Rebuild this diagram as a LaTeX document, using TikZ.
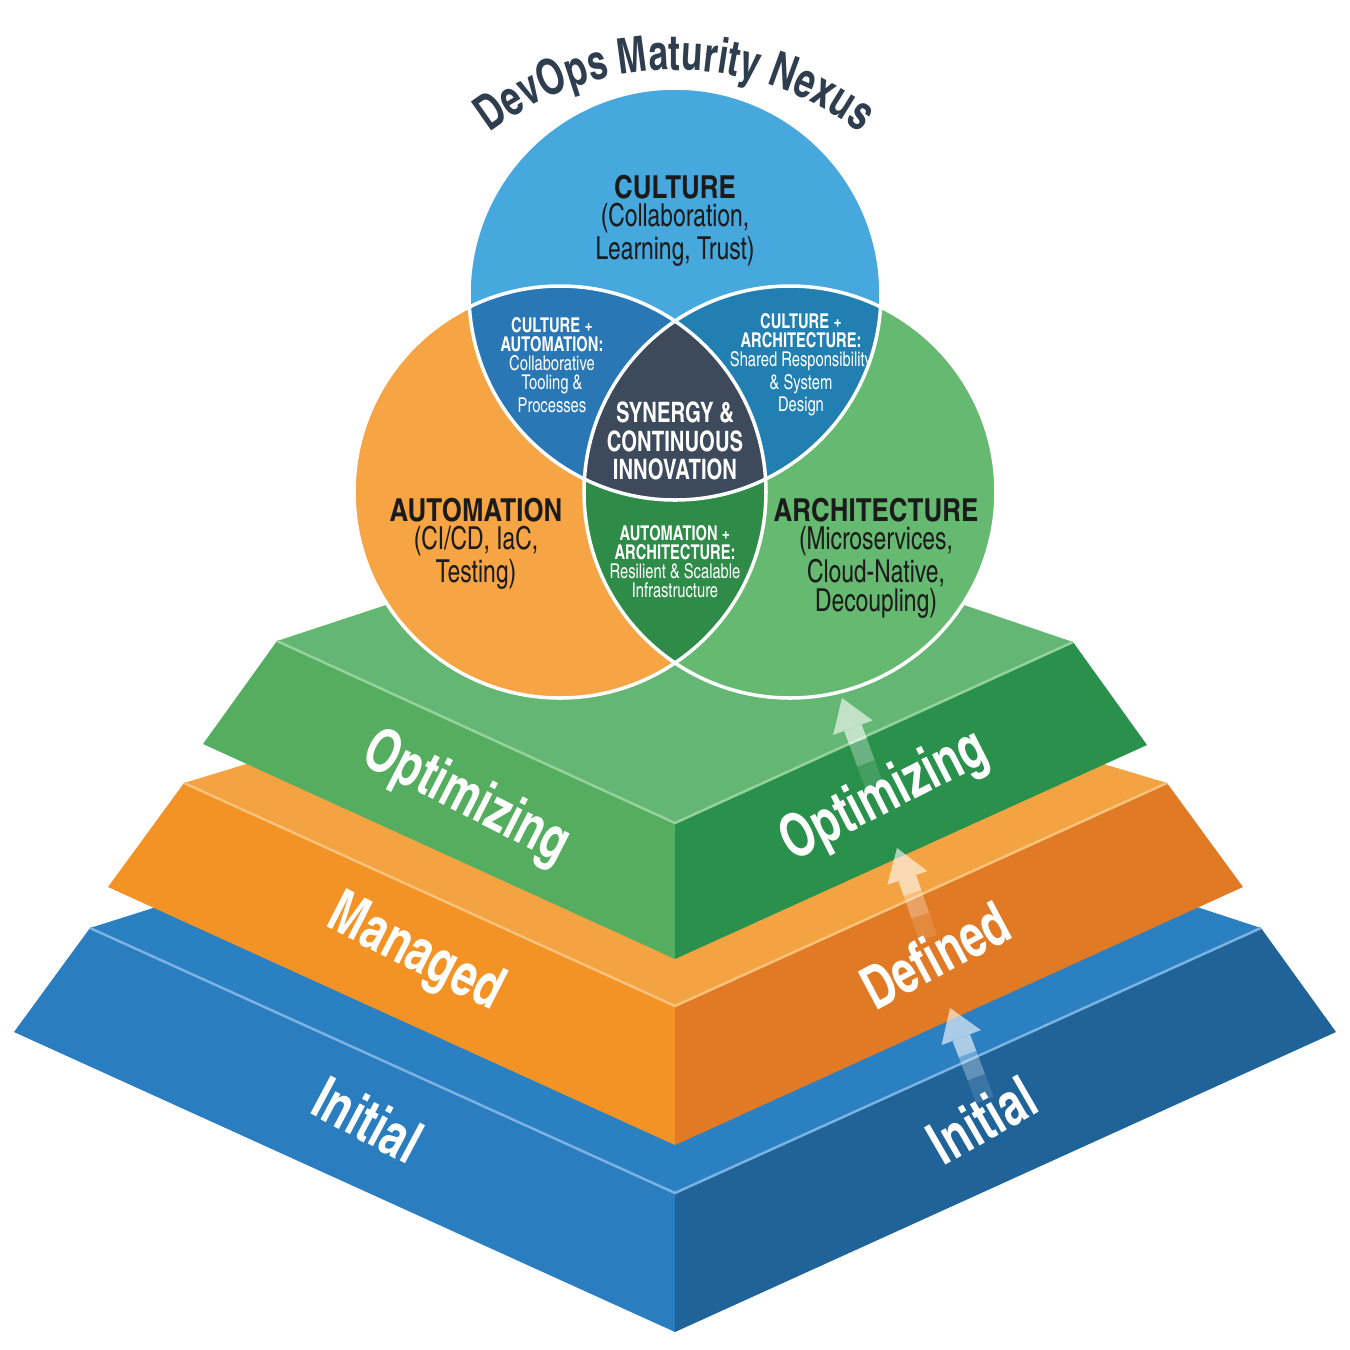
\documentclass[tikz,border=0pt]{standalone}
\usepackage{fontspec}
\setmainfont{texgyreheroscn}[Extension=.otf,UprightFont=*-regular,BoldFont=*-bold,FakeStretch=0.88]
\newfontfamily\vennhead{texgyreheroscn}[Extension=.otf,UprightFont=*-bold]
\usetikzlibrary{arrows.meta,decorations.text,calc}

\definecolor{bluetop}{HTML}{2B80C2}
\definecolor{blueleft}{HTML}{2A7DBF}
\definecolor{blueright}{HTML}{1F6399}
\definecolor{blueedge}{HTML}{7CB3E2}
\definecolor{orangetop}{HTML}{F4A342}
\definecolor{orangeleft}{HTML}{F39325}
\definecolor{orangeright}{HTML}{E07A25}
\definecolor{orangeedge}{HTML}{F9C37D}
\definecolor{greentop}{HTML}{64B773}
\definecolor{greenleft}{HTML}{55AE5F}
\definecolor{greenright}{HTML}{2A914C}
\definecolor{greenedge}{HTML}{96D29E}
\definecolor{culturefill}{HTML}{46A8DC}
\definecolor{autofill}{HTML}{F6A444}
\definecolor{archfill}{HTML}{66B970}
\definecolor{cultautofill}{HTML}{2A77B6}
\definecolor{cultarchfill}{HTML}{2180B1}
\definecolor{autoarchfill}{HTML}{2E8B48}
\definecolor{corefill}{HTML}{3C4A5C}
\definecolor{titlecol}{HTML}{2F3E4F}
\definecolor{inkdark}{HTML}{1B1B1B}

\newcommand{\nexusfont}{\bfseries\fontsize{14}{14}\selectfont}

\begin{document}
\begin{tikzpicture}[x=0.01cm,y=-0.01cm,
  vennlabel/.style={align=center,text=inkdark,font=\fontsize{9}{8}\selectfont,inner sep=0pt},
  lenslabel/.style={align=center,text=white,font=\fontsize{5.8}{5.4}\selectfont,inner sep=0pt},
  corelabel/.style={align=center,text=white,font=\bfseries\fontsize{8}{8}\selectfont,inner sep=0pt},
  layerlabel/.style={text=white,font=\bfseries\fontsize{17}{17}\selectfont,inner sep=0pt},
  vennline/.style={draw=white,line width=1pt},
  edgeline/.style={line width=.7pt},
  upshaft/.style={white,line width=5.3pt},
  uphead/.style={upshaft,-{Triangle[width=12pt,length=9pt,line width=0pt]}}]
\useasboundingbox (0,0) rectangle (1350,1350);

% pyramid, bottom layer first
\fill[bluetop] (90,928) -- (150,909) -- (675,700) -- (1200,908) -- (1261,928) -- (675,1193) -- cycle;
\fill[blueleft] (90,928) -- (675,1193) -- (675,1332) -- (14,1032) -- cycle;
\fill[blueright] (675,1193) -- (1261,928) -- (1336,1032) -- (675,1332) -- cycle;
\draw[edgeline,blueedge] (90,928) -- (675,1193) -- (1261,928);

\fill[orangetop] (184,783) -- (243,765) -- (675,620) -- (1107,765) -- (1167,783) -- (675,1006) -- cycle;
\fill[orangeleft] (184,783) -- (675,1006) -- (675,1145) -- (108,887) -- cycle;
\fill[orangeright] (675,1006) -- (1167,783) -- (1243,887) -- (675,1145) -- cycle;
\draw[edgeline,orangeedge] (184,783) -- (675,1006) -- (1167,783);

\fill[greentop] (277,641) -- (383,606) -- (675,510) -- (967,606) -- (1073,642) -- (675,823) -- cycle;
\fill[greenleft] (277,641) -- (675,823) -- (675,959) -- (203,744) -- cycle;
\fill[greenright] (675,823) -- (1073,642) -- (1147,745) -- (675,959) -- cycle;
\draw[edgeline,greenedge] (277,641) -- (675,823) -- (1073,642);

% venn circles
\coordinate (cul) at (675,294);
\coordinate (aut) at (560,492);
\coordinate (arc) at (790,492);
\fill[culturefill] (cul) circle[radius=206];
\fill[autofill] (aut) circle[radius=206];
\fill[archfill] (arc) circle[radius=206];
\begin{scope}
  \clip (aut) circle[radius=206];
  \fill[autoarchfill] (arc) circle[radius=206];
\end{scope}
\begin{scope}
  \clip (cul) circle[radius=206];
  \fill[cultautofill] (aut) circle[radius=206];
  \fill[cultarchfill] (arc) circle[radius=206];
  \clip (aut) circle[radius=206];
  \fill[corefill] (arc) circle[radius=206];
\end{scope}
\draw[vennline] (cul) circle[radius=206];
\draw[vennline] (aut) circle[radius=206];
\draw[vennline] (arc) circle[radius=206];

\path[decorate,decoration={text along path,text={|\nexusfont|DevOps Maturity Nexus},text align=center,text color=titlecol}]
  (483,138) arc[start angle=-129,end angle=-51,radius=305];

\node[vennlabel] (culture) at (675,221) {{\vennhead CULTURE}\\(Collaboration,\\Learning, Trust)};
\node[vennlabel] (automation) at (476,544) {{\vennhead AUTOMATION}\\(CI/CD, IaC,\\Testing)};
\node[vennlabel] (architecture) at (876,558) {{\vennhead ARCHITECTURE}\\(Microservices,\\Cloud-Native,\\Decoupling)};
\node[lenslabel] (cultauto) at (552,365) {\textbf{CULTURE +}\\\textbf{AUTOMATION:}\\Collaborative\\Tooling \&\\Processes};
\node[lenslabel] (cultarch) at (801,365) {\textbf{CULTURE +}\\\textbf{ARCHITECTURE:}\\Shared Responsibility\\\& System\\Design};
\node[lenslabel] (autoarch) at (675,562) {\textbf{AUTOMATION +}\\\textbf{ARCHITECTURE:}\\Resilient \& Scalable\\Infrastructure};
\node[corelabel] (core) at (675,441) {SYNERGY \&\\CONTINUOUS\\INNOVATION};

% level names
\node[layerlabel,rotate=-27] (optleft) at (466,799) {Optimizing};
\node[layerlabel,rotate=27] (optright) at (885,797) {Optimizing};
\node[layerlabel,rotate=-27] (managed) at (415,955) {Managed};
\node[layerlabel,rotate=28] (defined) at (935,955) {Defined};
\node[layerlabel,rotate=-28] (initleft) at (368,1120) {Initial};
\node[layerlabel,rotate=30] (initright) at (982,1120) {Initial};

% level-up arrows, fading toward the tail
\coordinate (up1s) at (985,1100);
\coordinate (up1e) at (950,1008);
\coordinate (up2s) at (928,938);
\coordinate (up2e) at (897,848);
\coordinate (up3s) at (874,785);
\coordinate (up3e) at (842,698);
\foreach \s/\e in {up1s/up1e,up2s/up2e,up3s/up3e} {
  \draw[upshaft,opacity=.12] (\s) -- ($(\s)!.25!(\e)$);
  \draw[upshaft,opacity=.3] ($(\s)!.25!(\e)$) -- ($(\s)!.5!(\e)$);
  \begin{scope}[transparency group,opacity=.6]
    \draw[uphead] ($(\s)!.5!(\e)$) -- (\e);
  \end{scope}
}
\end{tikzpicture}
\end{document}
